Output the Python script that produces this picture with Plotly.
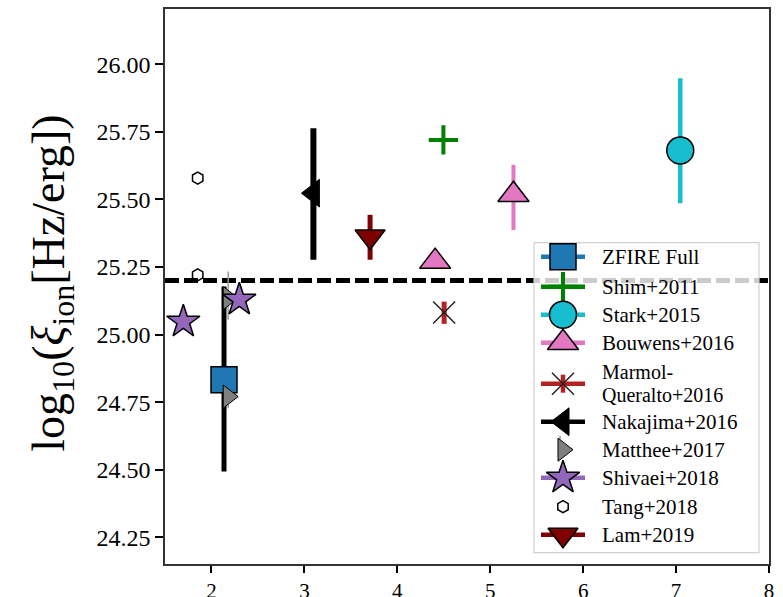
import plotly.graph_objects as go

# ---------------- data ----------------
zfire_x = [2.135]; zfire_y = [24.833]; zfire_ep = [0.345]; zfire_em = [0.339]
shim_x = [4.496]; shim_y = [25.720]
stark_x = [7.045]; stark_y = [25.681]; stark_ep = [0.267]; stark_em = [0.195]
bouw_x = [5.25, 4.407]; bouw_y = [25.517, 25.270]; bouw_ep = [0.111, 0.0]; bouw_em = [0.130, 0.0]
marm_x = [4.504]; marm_y = [25.082]; marm_ep = [0.040]; marm_em = [0.042]
naka_x = [3.097]; naka_y = [25.523]; naka_ep = [0.240]; naka_em = [0.246]
matt_x = [2.18, 2.18]; matt_y = [25.135, 24.771]; matt_ep = [0.098, 0.029]; matt_em = [0.080, 0.043]
shiv_x = [1.697, 2.30]; shiv_y = [25.048, 25.129]
tang_x = [1.852, 1.852]; tang_y = [25.579, 25.221]
lam_x = [3.707]; lam_y = [25.363]; lam_ep = [0.080]; lam_em = [0.086]
ref_level = 25.2

x_ticks = [2, 3, 4, 5, 6, 7, 8]
y_ticks = [24.25, 24.50, 24.75, 25.00, 25.25, 25.50, 25.75, 26.00]

labels = ["ZFIRE Full", "Shim+2011", "Stark+2015", "Bouwens+2016",
          ["Marmol-", "Queralto+2016"], "Nakajima+2016", "Matthee+2017",
          "Shivaei+2018", "Tang+2018", "Lam+2019"]

# ---------------- styles ----------------
FONT = "Liberation Serif"
C_BLUE = "#1f77b4"; C_GREEN = "#008000"; C_CYAN = "#17becf"; C_PINK = "#e377c2"
C_BROWN = "#b22222"; C_GRAY = "#7f7f7f"; C_PURPLE = "#9467bd"; C_MAROON = "#800000"

styles = [
    dict(symbol="square", size=26, color=C_BLUE, lc="black", lw=1.5, ecol=C_BLUE, ew=5),
    dict(symbol="cross-thin", size=21, color=C_GREEN, lc=C_GREEN, lw=4, ecol=C_GREEN, ew=4),
    dict(symbol="circle", size=27, color=C_CYAN, lc="black", lw=1.5, ecol=C_CYAN, ew=4.5),
    dict(symbol="triangle-up", size=27, color=C_PINK, lc="black", lw=1.5, ecol=C_PINK, ew=4),
    dict(symbol="x-thin", size=22, color="black", lc="#222222", lw=1.5, ecol=C_BROWN, ew=5),
    dict(symbol="triangle-left", size=24, color="black", lc="black", lw=1, ecol="black", ew=6),
    dict(symbol="triangle-right", size=20, color=C_GRAY, lc="black", lw=1, ecol="#999999", ew=1.5),
    dict(symbol="star", size=25, color=C_PURPLE, lc="black", lw=1.5, ecol=C_PURPLE, ew=4),
    dict(symbol="hexagon", size=12, color="white", lc="black", lw=1.5, ecol="black", ew=1),
    dict(symbol="triangle-down", size=26, color=C_MAROON, lc="black", lw=1.5, ecol=C_MAROON, ew=5),
]

fig = go.Figure()

def add_pts(x, y, st, ep=None, em=None, ecolor=None):
    err = None
    if ep is not None:
        err = dict(type="data", array=ep, arrayminus=em, color=ecolor or st["ecol"],
                   thickness=st["ew"], width=0, visible=True)
    fig.add_trace(go.Scatter(
        x=x, y=y, mode="markers", showlegend=False, hoverinfo="skip",
        error_y=err,
        marker=dict(symbol=st["symbol"], size=st["size"], color=st["color"],
                    line=dict(color=st["lc"], width=st["lw"]))))

# order: Tang under the dashed line
add_pts(tang_x, tang_y, styles[8])
fig.add_trace(go.Scatter(x=[1.5, 8], y=[ref_level, ref_level], mode="lines",
                         showlegend=False, hoverinfo="skip",
                         line=dict(color="black", width=5, dash="14px,5px")))
add_pts(zfire_x, zfire_y, styles[0], zfire_ep, zfire_em, ecolor="black")
add_pts(shim_x, shim_y, styles[1])
add_pts(stark_x, stark_y, styles[2], stark_ep, stark_em)
add_pts(bouw_x, bouw_y, styles[3], bouw_ep, bouw_em)
add_pts(marm_x, marm_y, styles[4], marm_ep, marm_em)
add_pts(naka_x, naka_y, styles[5], naka_ep, naka_em)
add_pts(matt_x, matt_y, styles[6], matt_ep, matt_em)
add_pts(shiv_x, shiv_y, styles[7])
add_pts(lam_x, lam_y, styles[9], lam_ep, lam_em)

# ---------------- manual legend on overlay axes (pixel-like units) ----------------
L_LEFT, L_RIGHT, L_TOP, L_BOT = 534, 759, 243, 553
row_y = [257, 287, 315, 343, 384, 422, 450, 478, 507, 535]
mk_x, ln_x0, ln_x1, txt_x = 563, 541, 585, 600

fig.add_trace(go.Scatter(
    x=[L_LEFT, L_RIGHT, L_RIGHT, L_LEFT, L_LEFT], y=[L_TOP, L_TOP, L_BOT, L_BOT, L_TOP],
    xaxis="x2", yaxis="y2", mode="lines", fill="toself",
    fillcolor="rgba(255,255,255,0.8)", line=dict(color="#d0d0d0", width=1.2),
    showlegend=False, hoverinfo="skip"))

for i, st in enumerate(styles):
    ry = row_y[i]
    if i in (6,):
        fig.add_trace(go.Scatter(x=[mk_x - 3, mk_x - 3], y=[ry - 14, ry - 4], xaxis="x2", yaxis="y2",
                                 mode="lines", line=dict(color="#999999", width=1.5),
                                 showlegend=False, hoverinfo="skip"))
    elif i != 8:
        fig.add_trace(go.Scatter(x=[ln_x0, ln_x1], y=[ry, ry], xaxis="x2", yaxis="y2",
                                 mode="lines", line=dict(color=st["ecol"], width=4.5),
                                 showlegend=False, hoverinfo="skip"))
    if i == 4:
        fig.add_trace(go.Scatter(x=[mk_x, mk_x], y=[ry - 9, ry + 9], xaxis="x2", yaxis="y2",
                                 mode="lines", line=dict(color=C_BROWN, width=4.5),
                                 showlegend=False, hoverinfo="skip"))
    fig.add_trace(go.Scatter(
        x=[mk_x], y=[ry], xaxis="x2", yaxis="y2", mode="markers",
        marker=dict(symbol=st["symbol"], size=st["size"], color=st["color"],
                    line=dict(color=st["lc"], width=st["lw"])),
        showlegend=False, hoverinfo="skip"))

annotations = []
for i, lab in enumerate(labels):
    if isinstance(lab, list):
        for j, part in enumerate(lab):
            annotations.append(dict(x=txt_x, y=row_y[i] - 11.5 + 23 * j, xref="x2", yref="y2",
                                    text=part, showarrow=False, xanchor="left", yanchor="middle",
                                    font=dict(family=FONT, size=20, color="black")))
    else:
        annotations.append(dict(x=txt_x, y=row_y[i], xref="x2", yref="y2", text=lab,
                                showarrow=False, xanchor="left", yanchor="middle",
                                font=dict(family=FONT, size=21, color="black")))

annotations.append(dict(x=-0.187, y=0.505, xref="paper", yref="paper",
                        text="log<sub>10</sub>(<i>ξ</i><sub>ion</sub>[Hz/erg])",
                        textangle=-90, showarrow=False, xanchor="center", yanchor="middle",
                        font=dict(family=FONT, size=46, color="black")))

fig.update_layout(
    width=783, height=597,
    margin=dict(l=165, r=14, t=9, b=33),
    paper_bgcolor="white", plot_bgcolor="white",
    font=dict(family=FONT, color="black"),
    annotations=annotations,
    xaxis=dict(range=[1.5, 8], tickvals=x_ticks, ticks="outside", ticklen=7, tickwidth=1.5,
               tickcolor="black", showline=True, linecolor="#333333", linewidth=1.5, mirror=True,
               showgrid=False, zeroline=False, automargin=False,
               tickfont=dict(family=FONT, size=21, color="black")),
    yaxis=dict(range=[24.152, 26.204], tickvals=y_ticks, tickformat=".2f", ticks="outside",
               ticklen=8, tickwidth=1.5, tickcolor="black", showline=True, linecolor="#333333",
               linewidth=1.5, mirror=True, showgrid=False, zeroline=False, automargin=False,
               tickfont=dict(family=FONT, size=24, color="black")),
    xaxis2=dict(overlaying="x", range=[165, 769], visible=False, fixedrange=True),
    yaxis2=dict(overlaying="y", range=[564.3, 9.3], visible=False, fixedrange=True),
)

fig.write_html("out.html")
